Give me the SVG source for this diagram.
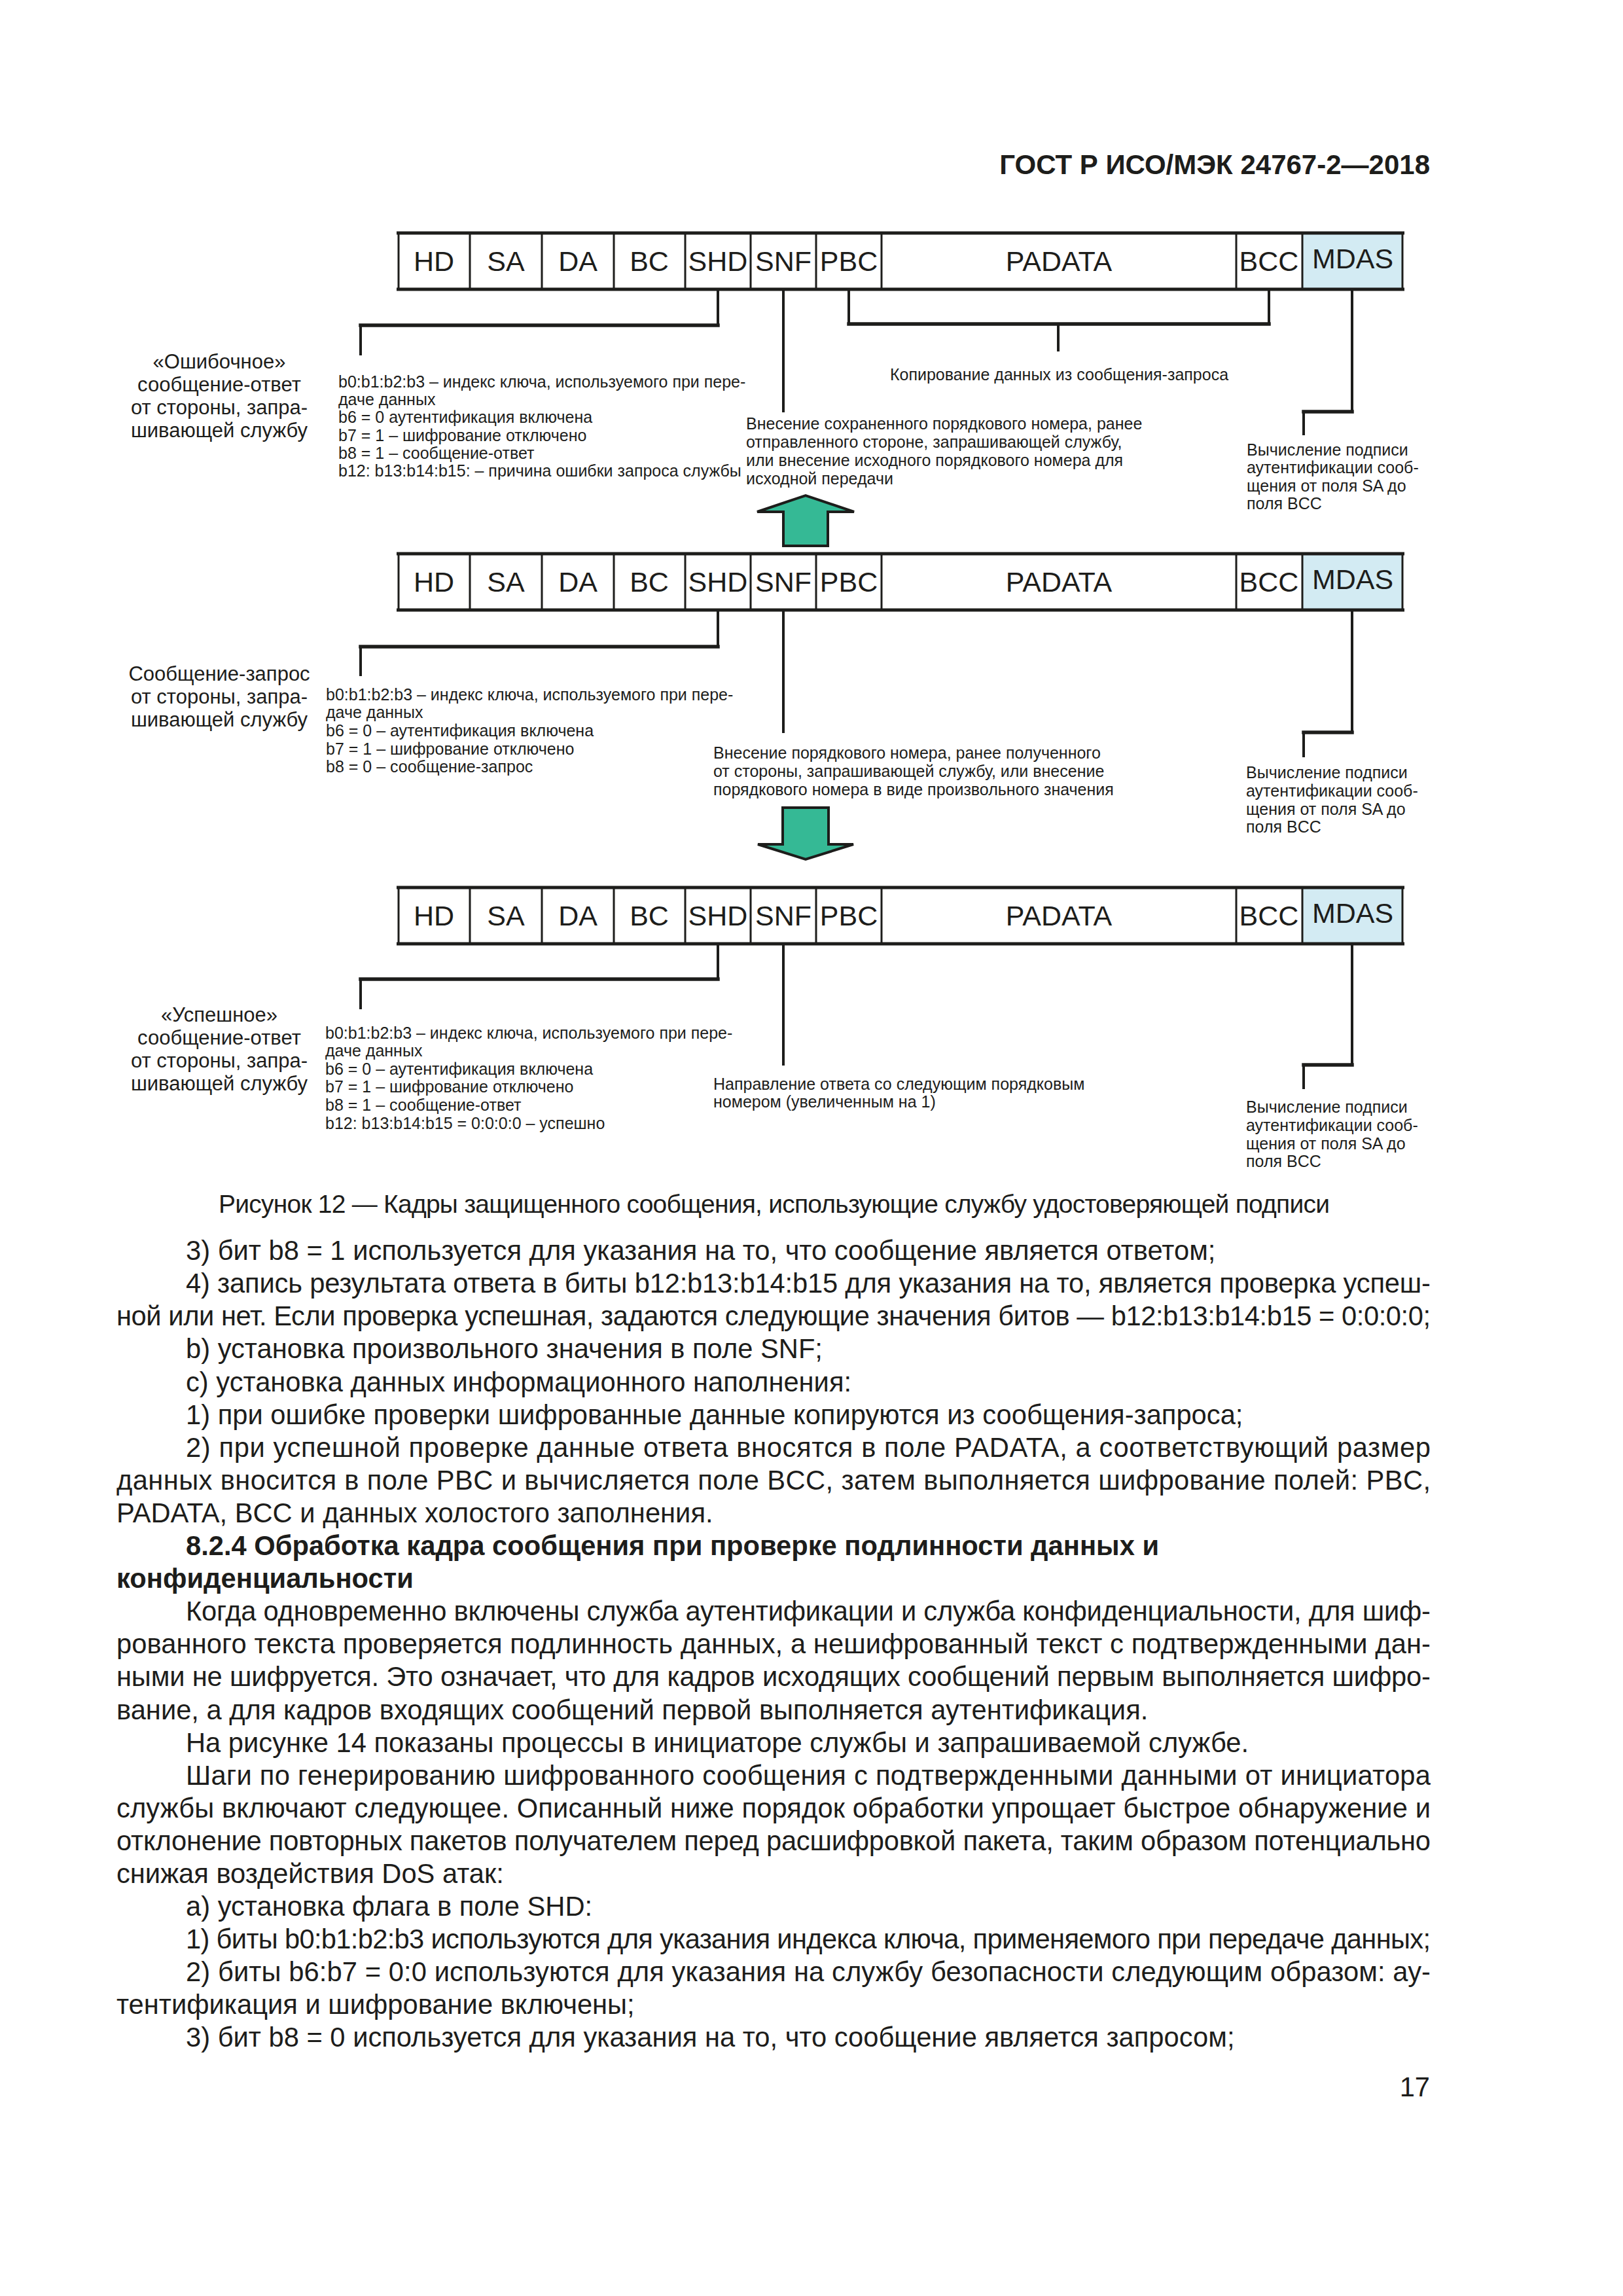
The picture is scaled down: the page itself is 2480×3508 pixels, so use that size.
<svg xmlns="http://www.w3.org/2000/svg" width="2480" height="3508" viewBox="0 0 2480 3508">
<style>
text{font-family:"Liberation Sans",Arial,Helvetica,sans-serif;fill:#1d1d1b}
.fld{font-size:43px;text-anchor:middle}
.ann{font-size:25px}
.lbl{font-size:31px;text-anchor:middle}
.body{font-size:41.7px}
.bold{font-weight:bold}
.bg{fill:#ffffff;stroke:none}
.mdas{fill:#d3ebf3;stroke:none}
.div{stroke:#1d1d1b;stroke-width:3;fill:none}
.edge{stroke:#1d1d1b;stroke-width:5;fill:none}
.v{stroke:#1d1d1b;stroke-width:4;fill:none}
.h{stroke:#1d1d1b;stroke-width:5.5;fill:none;stroke-linecap:square}
.arrow{fill:#35b995;stroke:#1d1d1b;stroke-width:4;stroke-linejoin:miter}
</style>
<rect width="2480" height="3508" fill="#ffffff"/>
<text id="header" class="bold" x="2185" y="266" font-size="42" text-anchor="end">ГОСТ Р ИСО/МЭК 24767-2—2018</text>

<g id="frame1">
<rect class="bg" x="608" y="356" width="1536" height="86"/>
<rect class="mdas" x="1990" y="356" width="154" height="86"/>
<path class="div" d="M609,356V442M718,356V442M828,356V442M938,356V442M1047,356V442M1147,356V442M1247,356V442M1347,356V442M1889,356V442M1990,356V442M2143,356V442"/>
<path class="edge" d="M606,356H2146M606,442H2146"/>
<text class="fld" x="663" y="414">HD</text>
<text class="fld" x="773" y="414">SA</text>
<text class="fld" x="883" y="414">DA</text>
<text class="fld" x="992" y="414">BC</text>
<text class="fld" x="1097" y="414">SHD</text>
<text class="fld" x="1197" y="414">SNF</text>
<text class="fld" x="1297" y="414">PBC</text>
<text class="fld" x="1618" y="414">PADATA</text>
<text class="fld" x="1939" y="414">BCC</text>
<text class="fld" x="2067" y="410">MDAS</text>
</g>

<g id="frame2">
<rect class="bg" x="608" y="846" width="1536" height="86"/>
<rect class="mdas" x="1990" y="846" width="154" height="86"/>
<path class="div" d="M609,846V932M718,846V932M828,846V932M938,846V932M1047,846V932M1147,846V932M1247,846V932M1347,846V932M1889,846V932M1990,846V932M2143,846V932"/>
<path class="edge" d="M606,846H2146M606,932H2146"/>
<text class="fld" x="663" y="904">HD</text>
<text class="fld" x="773" y="904">SA</text>
<text class="fld" x="883" y="904">DA</text>
<text class="fld" x="992" y="904">BC</text>
<text class="fld" x="1097" y="904">SHD</text>
<text class="fld" x="1197" y="904">SNF</text>
<text class="fld" x="1297" y="904">PBC</text>
<text class="fld" x="1618" y="904">PADATA</text>
<text class="fld" x="1939" y="904">BCC</text>
<text class="fld" x="2067" y="900">MDAS</text>
</g>

<g id="frame3">
<rect class="bg" x="608" y="1356" width="1536" height="86"/>
<rect class="mdas" x="1990" y="1356" width="154" height="86"/>
<path class="div" d="M609,1356V1442M718,1356V1442M828,1356V1442M938,1356V1442M1047,1356V1442M1147,1356V1442M1247,1356V1442M1347,1356V1442M1889,1356V1442M1990,1356V1442M2143,1356V1442"/>
<path class="edge" d="M606,1356H2146M606,1442H2146"/>
<text class="fld" x="663" y="1414">HD</text>
<text class="fld" x="773" y="1414">SA</text>
<text class="fld" x="883" y="1414">DA</text>
<text class="fld" x="992" y="1414">BC</text>
<text class="fld" x="1097" y="1414">SHD</text>
<text class="fld" x="1197" y="1414">SNF</text>
<text class="fld" x="1297" y="1414">PBC</text>
<text class="fld" x="1618" y="1414">PADATA</text>
<text class="fld" x="1939" y="1414">BCC</text>
<text class="fld" x="2067" y="1410">MDAS</text>
</g>

<g id="connectors">
<path class="v" d="M1097,442V497M551,497V543"/>
<path class="h" d="M1097,497H551"/>
<path class="v" d="M1197,442V630"/>
<path class="v" d="M1297,442V495M1939,442V495M1617,495V537"/>
<path class="h" d="M1297,495H1939"/>
<path class="v" d="M2066,442V629M1992,629V665"/>
<path class="h" d="M2066,629H1992"/>
<path class="arrow" d="M1197,834V782H1157L1231,757L1305,782H1265V834Z"/>
<path class="v" d="M1097,932V988M551,988V1033"/>
<path class="h" d="M1097,988H551"/>
<path class="v" d="M1197,932V1120"/>
<path class="v" d="M2066,932V1119M1992,1119V1157"/>
<path class="h" d="M2066,1119H1992"/>
<path class="arrow" d="M1196,1234H1266V1290H1304L1231,1313L1158,1290H1196Z"/>
<path class="v" d="M1097,1442V1496M551,1496V1542"/>
<path class="h" d="M1097,1496H551"/>
<path class="v" d="M1197,1442V1628"/>
<path class="v" d="M2066,1442V1627M1992,1627V1664"/>
<path class="h" d="M2066,1627H1992"/>
</g>

<g id="label1">
<text class="lbl" x="335" y="563">«Ошибочное»</text>
<text class="lbl" x="335" y="598">сообщение-ответ</text>
<text class="lbl" x="335" y="633">от стороны, запра-</text>
<text class="lbl" x="335" y="668">шивающей службу</text>
</g>
<g id="shd1">
<text class="ann" x="517" y="592">b0:b1:b2:b3 – индекс ключа, используемого при пере-</text>
<text class="ann" x="517" y="619">даче данных</text>
<text class="ann" x="517" y="646">b6 = 0 аутентификация включена</text>
<text class="ann" x="517" y="674">b7 = 1 – шифрование отключено</text>
<text class="ann" x="517" y="701">b8 = 1 – сообщение-ответ</text>
<text class="ann" x="517" y="728">b12: b13:b14:b15: – причина ошибки запроса службы</text>
</g>
<g id="copy1">
<text class="ann" x="1360" y="581">Копирование данных из сообщения-запроса</text>
</g>
<g id="snf1">
<text class="ann" x="1140" y="656">Внесение сохраненного порядкового номера, ранее</text>
<text class="ann" x="1140" y="684">отправленного стороне, запрашивающей службу,</text>
<text class="ann" x="1140" y="712">или внесение исходного порядкового номера для</text>
<text class="ann" x="1140" y="740">исходной передачи</text>
</g>
<g id="mdas1">
<text class="ann" x="1905" y="696">Вычисление подписи</text>
<text class="ann" x="1905" y="723">аутентификации сооб-</text>
<text class="ann" x="1905" y="751">щения от поля SA до</text>
<text class="ann" x="1905" y="778">поля BCC</text>
</g>

<g id="label2">
<text class="lbl" x="335" y="1040">Сообщение-запрос</text>
<text class="lbl" x="335" y="1075">от стороны, запра-</text>
<text class="lbl" x="335" y="1110">шивающей службу</text>
</g>
<g id="shd2">
<text class="ann" x="498" y="1070">b0:b1:b2:b3 – индекс ключа, используемого при пере-</text>
<text class="ann" x="498" y="1097">даче данных</text>
<text class="ann" x="498" y="1125">b6 = 0 – аутентификация включена</text>
<text class="ann" x="498" y="1153">b7 = 1 – шифрование отключено</text>
<text class="ann" x="498" y="1180">b8 = 0 – сообщение-запрос</text>
</g>
<g id="snf2">
<text class="ann" x="1090" y="1159">Внесение порядкового номера, ранее полученного</text>
<text class="ann" x="1090" y="1187">от стороны, запрашивающей службу, или внесение</text>
<text class="ann" x="1090" y="1215">порядкового номера в виде произвольного значения</text>
</g>
<g id="mdas2">
<text class="ann" x="1904" y="1189">Вычисление подписи</text>
<text class="ann" x="1904" y="1217">аутентификации сооб-</text>
<text class="ann" x="1904" y="1245">щения от поля SA до</text>
<text class="ann" x="1904" y="1272">поля BCC</text>
</g>

<g id="label3">
<text class="lbl" x="335" y="1561">«Успешное»</text>
<text class="lbl" x="335" y="1596">сообщение-ответ</text>
<text class="lbl" x="335" y="1631">от стороны, запра-</text>
<text class="lbl" x="335" y="1666">шивающей службу</text>
</g>
<g id="shd3">
<text class="ann" x="497" y="1587">b0:b1:b2:b3 – индекс ключа, используемого при пере-</text>
<text class="ann" x="497" y="1614">даче данных</text>
<text class="ann" x="497" y="1642">b6 = 0 – аутентификация включена</text>
<text class="ann" x="497" y="1669">b7 = 1 – шифрование отключено</text>
<text class="ann" x="497" y="1697">b8 = 1 – сообщение-ответ</text>
<text class="ann" x="497" y="1725">b12: b13:b14:b15 = 0:0:0:0 – успешно</text>
</g>
<g id="snf3">
<text class="ann" x="1090" y="1665">Направление ответа со следующим порядковым</text>
<text class="ann" x="1090" y="1692">номером (увеличенным на 1)</text>
</g>
<g id="mdas3">
<text class="ann" x="1904" y="1700">Вычисление подписи</text>
<text class="ann" x="1904" y="1728">аутентификации сооб-</text>
<text class="ann" x="1904" y="1756">щения от поля SA до</text>
<text class="ann" x="1904" y="1783">поля BCC</text>
</g>

<text id="caption" x="334" y="1853" font-size="39" textLength="1698" lengthAdjust="spacing">Рисунок 12 — Кадры защищенного сообщения, использующие службу удостоверяющей подписи</text>

<g id="bodytext">
<text class="body" x="284" y="1925">3) бит b8 = 1 используется для указания на то, что сообщение является ответом;</text>
<text class="body" x="284" y="1975" textLength="1902" lengthAdjust="spacing">4) запись результата ответа в биты b12:b13:b14:b15 для указания на то, является проверка успеш-</text>
<text class="body" x="178" y="2025" textLength="2008" lengthAdjust="spacing">ной или нет. Если проверка успешная, задаются следующие значения битов — b12:b13:b14:b15 = 0:0:0:0;</text>
<text class="body" x="284" y="2075">b) установка произвольного значения в поле SNF;</text>
<text class="body" x="284" y="2126">c) установка данных информационного наполнения:</text>
<text class="body" x="284" y="2176">1) при ошибке проверки шифрованные данные копируются из сообщения-запроса;</text>
<text class="body" x="284" y="2226" textLength="1902" lengthAdjust="spacing">2) при успешной проверке данные ответа вносятся в поле PADATA, а соответствующий размер</text>
<text class="body" x="178" y="2276" textLength="2008" lengthAdjust="spacing">данных вносится в поле PBC и вычисляется поле BCC, затем выполняется шифрование полей: PBC,</text>
<text class="body" x="178" y="2326">PADATA, BCC и данных холостого заполнения.</text>
<text class="body bold" x="284" y="2376">8.2.4 Обработка кадра сообщения при проверке подлинности данных и</text>
<text class="body bold" x="178" y="2426">конфиденциальности</text>
<text class="body" x="284" y="2476" textLength="1902" lengthAdjust="spacing">Когда одновременно включены служба аутентификации и служба конфиденциальности, для шиф-</text>
<text class="body" x="178" y="2526" textLength="2008" lengthAdjust="spacing">рованного текста проверяется подлинность данных, а нешифрованный текст с подтвержденными дан-</text>
<text class="body" x="178" y="2576" textLength="2008" lengthAdjust="spacing">ными не шифруется. Это означает, что для кадров исходящих сообщений первым выполняется шифро-</text>
<text class="body" x="178" y="2627">вание, а для кадров входящих сообщений первой выполняется аутентификация.</text>
<text class="body" x="284" y="2677">На рисунке 14 показаны процессы в инициаторе службы и запрашиваемой службе.</text>
<text class="body" x="284" y="2727" textLength="1902" lengthAdjust="spacing">Шаги по генерированию шифрованного сообщения с подтвержденными данными от инициатора</text>
<text class="body" x="178" y="2777" textLength="2008" lengthAdjust="spacing">службы включают следующее. Описанный ниже порядок обработки упрощает быстрое обнаружение и</text>
<text class="body" x="178" y="2827" textLength="2008" lengthAdjust="spacing">отклонение повторных пакетов получателем перед расшифровкой пакета, таким образом потенциально</text>
<text class="body" x="178" y="2877">снижая воздействия DoS атак:</text>
<text class="body" x="284" y="2927">a) установка флага в поле SHD:</text>
<text class="body" x="284" y="2977" textLength="1902" lengthAdjust="spacing">1) биты b0:b1:b2:b3 используются для указания индекса ключа, применяемого при передаче данных;</text>
<text class="body" x="284" y="3027" textLength="1902" lengthAdjust="spacing">2) биты b6:b7 = 0:0 используются для указания на службу безопасности следующим образом: ау-</text>
<text class="body" x="178" y="3077">тентификация и шифрование включены;</text>
<text class="body" x="284" y="3127">3) бит b8 = 0 используется для указания на то, что сообщение является запросом;</text>
</g>
<text id="pagenum" class="body" x="2185" y="3203" text-anchor="end">17</text>
</svg>
